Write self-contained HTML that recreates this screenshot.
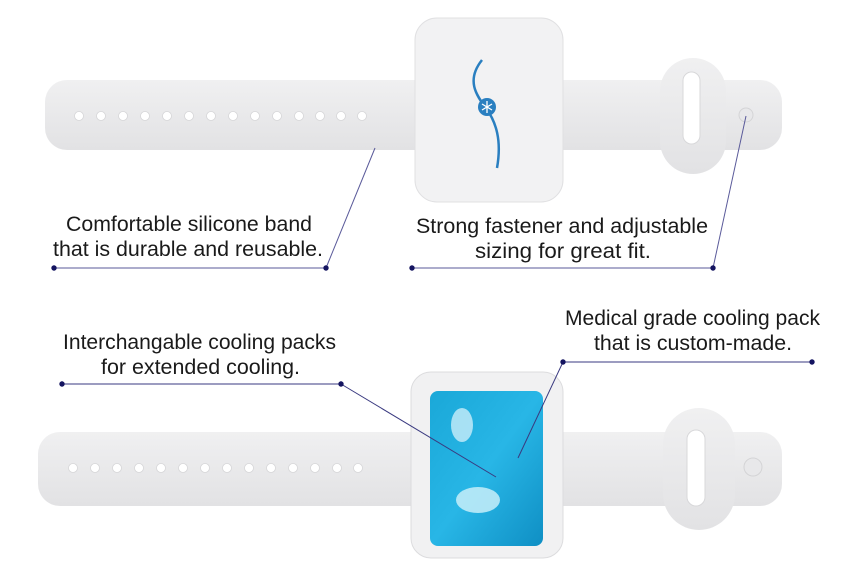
<!DOCTYPE html>
<html><head><meta charset="utf-8"><style>
html,body{margin:0;padding:0;background:#fff;width:851px;height:579px;overflow:hidden}
svg{display:block}
text{font-family:"Liberation Sans",sans-serif;font-size:21px;fill:#1a1a1a}
</style></head><body>
<svg width="851" height="579" viewBox="0 0 851 579" xmlns="http://www.w3.org/2000/svg">
<defs>
<linearGradient id="band" x1="0" y1="0" x2="0" y2="1"><stop offset="0" stop-color="#f0f0f1"/><stop offset="1" stop-color="#e2e2e4"/></linearGradient>
<linearGradient id="pack" x1="0" y1="0" x2="1" y2="1"><stop offset="0" stop-color="#1aa8d8"/><stop offset="0.5" stop-color="#28b6e6"/><stop offset="1" stop-color="#0f8fc4"/></linearGradient>
</defs>
<!-- TOP BAND -->
<rect x="45" y="80" width="400" height="70" rx="22" fill="url(#band)"/>
<rect x="540" y="80" width="242" height="70" rx="22" fill="url(#band)"/>
<rect x="660" y="58" width="66" height="116" rx="33" fill="url(#band)"/>
<rect x="683" y="72" width="17" height="72" rx="8.5" fill="#fff" stroke="#d8d8da"/>
<circle cx="746" cy="115" r="7" fill="#e8e8ea" stroke="#d4d4d6"/>
<g fill="#fff" stroke="#d6d6d8" stroke-width="0.8">
<circle cx="79" cy="116" r="4.5"/><circle cx="101" cy="116" r="4.5"/><circle cx="123" cy="116" r="4.5"/><circle cx="145" cy="116" r="4.5"/><circle cx="167" cy="116" r="4.5"/><circle cx="189" cy="116" r="4.5"/><circle cx="211" cy="116" r="4.5"/><circle cx="233" cy="116" r="4.5"/><circle cx="255" cy="116" r="4.5"/><circle cx="277" cy="116" r="4.5"/><circle cx="299" cy="116" r="4.5"/><circle cx="320" cy="116" r="4.5"/><circle cx="341" cy="116" r="4.5"/><circle cx="362" cy="116" r="4.5"/>
</g>
<rect x="415" y="18" width="148" height="184" rx="22" fill="#f2f2f3" stroke="#e0e0e2"/>
<path d="M482 60 C466 80 476 95 486 108 C496 122 502 140 497 168" fill="none" stroke="#2a7fc0" stroke-width="2.5"/>
<circle cx="487" cy="107" r="9" fill="#2a7fc0"/>
<g stroke="#fff" stroke-width="1.3"><line x1="487" y1="101" x2="487" y2="113"/><line x1="482" y1="104" x2="492" y2="110"/><line x1="482" y1="110" x2="492" y2="104"/></g>
<!-- top labels -->
<text x="66" y="231" textLength="246" lengthAdjust="spacingAndGlyphs">Comfortable silicone band</text>
<text x="53" y="256" textLength="270" lengthAdjust="spacingAndGlyphs">that is durable and reusable.</text>
<text x="416" y="233" textLength="292" lengthAdjust="spacingAndGlyphs">Strong fastener and adjustable</text>
<text x="475" y="258" textLength="176" lengthAdjust="spacingAndGlyphs">sizing for great fit.</text>
<g stroke="#5a5a9a" stroke-width="1" fill="none">
<line x1="54" y1="268" x2="326" y2="268"/><line x1="326" y1="268" x2="375" y2="148"/>
<line x1="412" y1="268" x2="713" y2="268"/><line x1="713" y1="268" x2="746" y2="116"/>
</g>
<g fill="#141460"><circle cx="54" cy="268" r="2.7"/><circle cx="326" cy="268" r="2.7"/><circle cx="412" cy="268" r="2.7"/><circle cx="713" cy="268" r="2.7"/></g>
<!-- BOTTOM BAND -->
<rect x="38" y="432" width="400" height="74" rx="22" fill="url(#band)"/>
<rect x="540" y="432" width="242" height="74" rx="22" fill="url(#band)"/>
<rect x="663" y="408" width="72" height="122" rx="36" fill="url(#band)"/>
<rect x="687" y="430" width="18" height="76" rx="9" fill="#fff" stroke="#d8d8da"/>
<circle cx="753" cy="467" r="9" fill="#e8e8ea" stroke="#d4d4d6"/>
<g fill="#fff" stroke="#d6d6d8" stroke-width="0.8">
<circle cx="73" cy="468" r="4.5"/><circle cx="95" cy="468" r="4.5"/><circle cx="117" cy="468" r="4.5"/><circle cx="139" cy="468" r="4.5"/><circle cx="161" cy="468" r="4.5"/><circle cx="183" cy="468" r="4.5"/><circle cx="205" cy="468" r="4.5"/><circle cx="227" cy="468" r="4.5"/><circle cx="249" cy="468" r="4.5"/><circle cx="271" cy="468" r="4.5"/><circle cx="293" cy="468" r="4.5"/><circle cx="315" cy="468" r="4.5"/><circle cx="337" cy="468" r="4.5"/><circle cx="358" cy="468" r="4.5"/>
</g>
<rect x="411" y="372" width="152" height="186" rx="20" fill="#f1f1f2" stroke="#dcdcde"/>
<rect x="430" y="391" width="113" height="155" rx="8" fill="url(#pack)"/>
<ellipse cx="462" cy="425" rx="11" ry="17" fill="#bfeaf8" opacity="0.85"/>
<ellipse cx="478" cy="500" rx="22" ry="13" fill="#c8eef9" opacity="0.85"/>
<!-- bottom labels -->
<text x="63" y="349" textLength="273" lengthAdjust="spacingAndGlyphs">Interchangable cooling packs</text>
<text x="101" y="374" textLength="199" lengthAdjust="spacingAndGlyphs">for extended cooling.</text>
<text x="565" y="325" textLength="255" lengthAdjust="spacingAndGlyphs">Medical grade cooling pack</text>
<text x="594" y="350" textLength="198" lengthAdjust="spacingAndGlyphs">that is custom-made.</text>
<g stroke="#3a3a80" stroke-width="1" fill="none">
<line x1="62" y1="384" x2="341" y2="384"/><line x1="341" y1="384" x2="496" y2="477"/>
<line x1="563" y1="362" x2="812" y2="362"/><line x1="563" y1="362" x2="518" y2="458"/>
</g>
<g fill="#141460"><circle cx="62" cy="384" r="2.7"/><circle cx="341" cy="384" r="2.7"/><circle cx="563" cy="362" r="2.7"/><circle cx="812" cy="362" r="2.7"/></g>
</svg>
</body></html>
